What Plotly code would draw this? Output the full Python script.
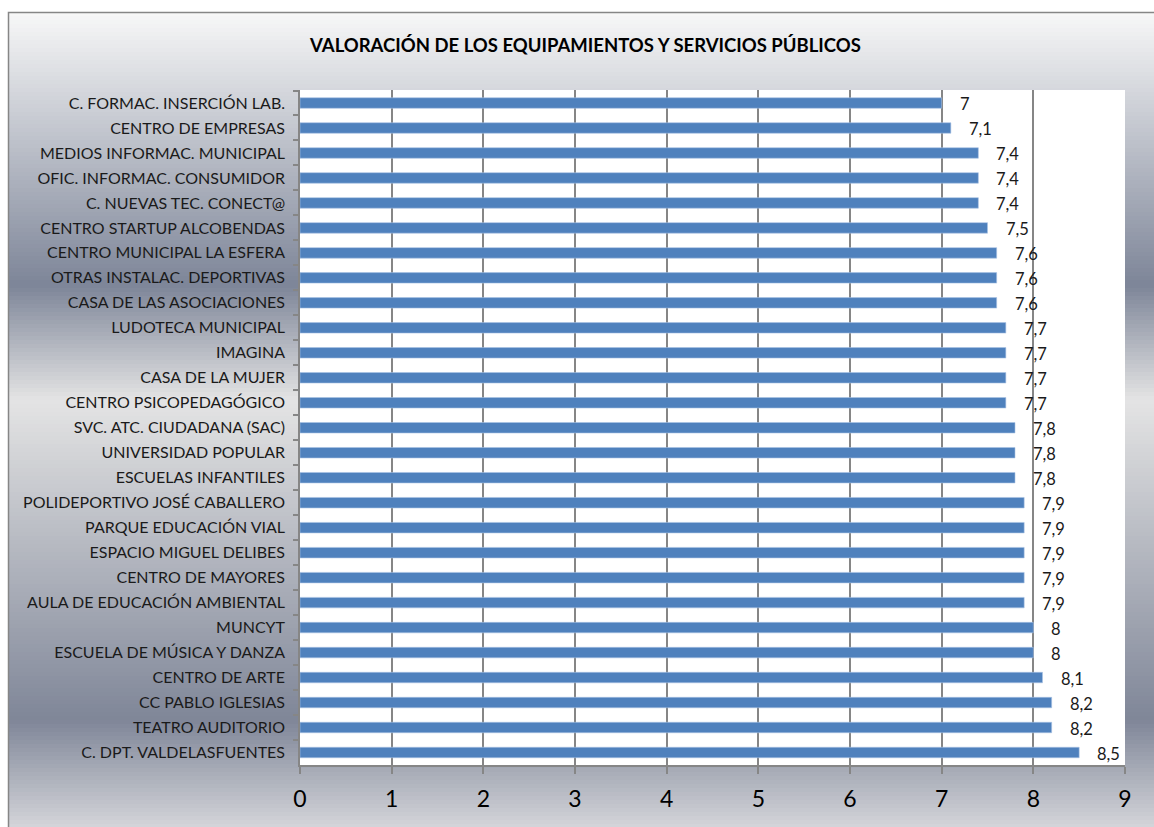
import plotly.graph_objects as go

categories = [
    "C. FORMAC. INSERCIÓN LAB.",
    "CENTRO DE EMPRESAS",
    "MEDIOS INFORMAC. MUNICIPAL",
    "OFIC. INFORMAC. CONSUMIDOR",
    "C. NUEVAS TEC. CONECT@",
    "CENTRO STARTUP ALCOBENDAS",
    "CENTRO MUNICIPAL LA ESFERA",
    "OTRAS INSTALAC. DEPORTIVAS",
    "CASA DE LAS ASOCIACIONES",
    "LUDOTECA MUNICIPAL",
    "IMAGINA",
    "CASA DE LA MUJER",
    "CENTRO PSICOPEDAGÓGICO",
    "SVC. ATC. CIUDADANA (SAC)",
    "UNIVERSIDAD POPULAR",
    "ESCUELAS INFANTILES",
    "POLIDEPORTIVO JOSÉ CABALLERO",
    "PARQUE EDUCACIÓN VIAL",
    "ESPACIO MIGUEL DELIBES",
    "CENTRO DE MAYORES",
    "AULA DE EDUCACIÓN AMBIENTAL",
    "MUNCYT",
    "ESCUELA DE MÚSICA Y DANZA",
    "CENTRO DE ARTE",
    "CC PABLO IGLESIAS",
    "TEATRO AUDITORIO",
    "C. DPT. VALDELASFUENTES",
]
values = [7, 7.1, 7.4, 7.4, 7.4, 7.5, 7.6, 7.6, 7.6, 7.7, 7.7, 7.7, 7.7,
          7.8, 7.8, 7.8, 7.9, 7.9, 7.9, 7.9, 7.9, 8, 8, 8.1, 8.2, 8.2, 8.5]
x_ticks = list(range(0, 10))
title = "VALORACIÓN DE LOS EQUIPAMIENTOS Y SERVICIOS PÚBLICOS"

W, H = 1154, 827
L, R, T, B = 300, 29, 90, 62
PW, PH = W - L - R, H - T - B

def px_x(px):
    return (px - L) / PW

def px_y(py):
    return (H - B - py) / PH

def hex2rgb(h):
    h = h.lstrip("#")
    return tuple(int(h[i:i + 2], 16) for i in (0, 2, 4))

stops = [(12, "#f8f8f8"), (285, "#7d8598"), (400, "#e4e4e4"),
         (720, "#7f8698"), (830, "#d6d7db")]

def color_at(y):
    for (y0, c0), (y1, c1) in zip(stops[:-1], stops[1:]):
        if y0 <= y <= y1:
            t = (y - y0) / (y1 - y0)
            a, b = hex2rgb(c0), hex2rgb(c1)
            return "rgb(%d,%d,%d)" % tuple(round(a[i] + (b[i] - a[i]) * t) for i in range(3))
    return stops[-1][1]

shapes = []
step = 4
y = 12
while y < 830:
    shapes.append(dict(type="rect", xref="paper", yref="paper",
                       x0=px_x(8), x1=px_x(1160), y0=px_y(y), y1=px_y(y + step + 0.6),
                       fillcolor=color_at(y + step / 2), line=dict(width=0), layer="below"))
    y += step
# outer border
shapes.append(dict(type="rect", xref="paper", yref="paper",
                   x0=px_x(8.5), x1=px_x(1165), y0=px_y(840), y1=px_y(12.5),
                   fillcolor="rgba(0,0,0,0)", line=dict(color="#868686", width=1.5), layer="below"))
# plot area white
shapes.append(dict(type="rect", xref="paper", yref="paper", x0=0, x1=1, y0=0, y1=1,
                   fillcolor="white", line=dict(width=0), layer="below"))

fig = go.Figure()
fig.add_trace(go.Bar(
    x=values, y=categories, orientation="h",
    marker=dict(color="#4f81bd", line=dict(color="#a9c3e4", width=0.6)),
    width=0.42, hoverinfo="skip",
))

annotations = []
for c, v in zip(categories, values):
    annotations.append(dict(x=v, y=c, xref="x", yref="y",
                            text=(("%g" % v).replace(".", ",")),
                            showarrow=False, xanchor="left", xshift=16, yshift=-1,
                            font=dict(family="Lato", size=16.5, color="#1a1a1a")))
annotations.append(dict(x=px_x(585), y=px_y(45), xref="paper", yref="paper",
                        text="<b>" + title + "</b>", showarrow=False,
                        xanchor="center", yanchor="middle",
                        font=dict(family="Lato", size=18.5, color="#000000")))

fig.update_layout(
    width=W, height=H,
    margin=dict(l=L, r=R, t=T, b=B, pad=0),
    paper_bgcolor="white", plot_bgcolor="white",
    showlegend=False,
    shapes=shapes,
    annotations=annotations,
    font=dict(family="Lato", color="#1a1a1a"),
    bargap=0.6,
)
fig.update_xaxes(
    range=[0, 9], tickvals=x_ticks, ticktext=[str(t) for t in x_ticks],
    showgrid=True, gridcolor="#868686", gridwidth=1.5,
    zeroline=False, showline=True, linecolor="#868686", linewidth=1.5,
    ticks="outside", ticklen=7, tickcolor="#868686", tickwidth=1.5,
    tickfont=dict(family="Lato", size=23, color="#000000"),
    ticklabelstandoff=6,
)
fig.update_yaxes(
    autorange="reversed", showgrid=False,
    showline=True, linecolor="#868686", linewidth=1.5,
    ticks="outside", ticklen=5, tickcolor="#868686", tickwidth=1.5,
    tickson="boundaries",
    tickfont=dict(family="Lato", size=16, color="#1a1a1a"),
    ticklabelstandoff=10,
)

fig.write_html("out.html", config={"displayModeBar": False},
               post_script="document.body.style.margin='0';document.body.style.overflow='hidden';")
